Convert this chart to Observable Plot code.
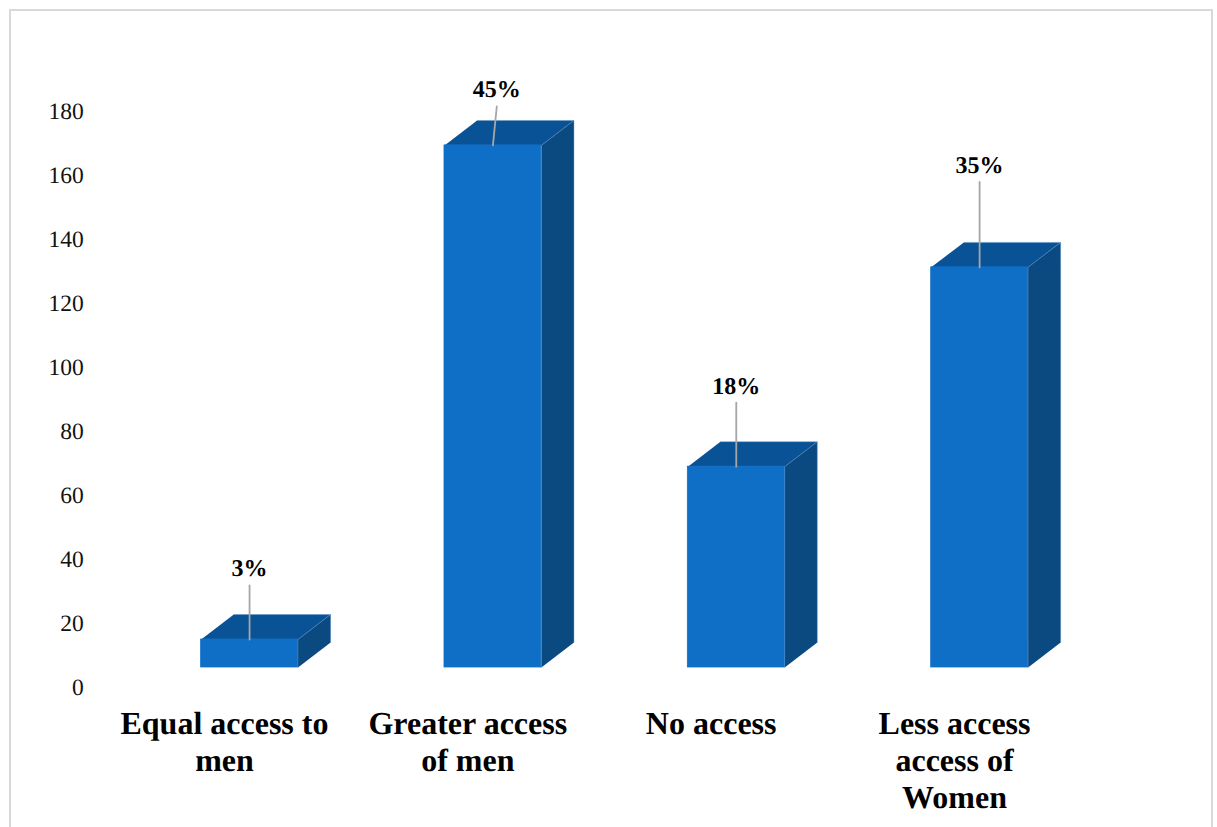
<!DOCTYPE html>
<html>
<head>
<meta charset="utf-8">
<script src="https://cdn.jsdelivr.net/npm/d3@7"></script>
<script src="https://cdn.jsdelivr.net/npm/@observablehq/plot@0.6"></script>
<style>
  html, body { margin: 0; padding: 0; background: #fff; overflow: hidden; }
  #page { position: relative; width: 1217px; height: 827px; overflow: hidden; }
  #border { position: absolute; left: 9px; top: 9px; width: 1200px; height: 860px; border: 2px solid #d9d9d9; }
  #chart { position: absolute; left: 0; top: 0; }
  #chart svg { display: block; text-rendering: geometricPrecision; }
</style>
</head>
<body>
<div id="page"><div id="border"></div><div id="chart"></div></div>
<script>
// Survey responses on access to resources
const categories = ["Equal access to\nmen", "Greater access\nof men", "No access", "Less access\naccess of\nWomen"];
const barTops = [15, 169.4, 69, 131.3];
const percentLabels = ["3%", "45%", "18%", "35%"];
const labelLevels = [31.9, 181.6, 89, 158];
const labelLean = [0, 0.016, 0, 0];
const yTicks = [0, 20, 40, 60, 80, 100, 120, 140, 160, 180];

// Shared geometry of the extruded columns, in scale units
const floor = 6.25;
const halfWidth = 0.199;
const barShift = 0.099;
const depthX = 0.134;
const depthY = 7.8;

const bars = categories.map((name, i) => ({
  name, i,
  top: barTops[i],
  label: percentLabels[i],
  level: labelLevels[i],
  lean: labelLean[i],
  left: i + barShift - halfWidth,
  right: i + barShift + halfWidth,
  mid: i + barShift
}));

const topFaces = bars.flatMap(b => [
  {k: b.i, x: b.left, y: b.top},
  {k: b.i, x: b.right, y: b.top},
  {k: b.i, x: b.right + depthX, y: b.top + depthY},
  {k: b.i, x: b.left + depthX, y: b.top + depthY}
]);
const sideFaces = bars.flatMap(b => [
  {k: b.i, x: b.right, y: floor},
  {k: b.i, x: b.right, y: b.top},
  {k: b.i, x: b.right + depthX, y: b.top + depthY},
  {k: b.i, x: b.right + depthX, y: floor + depthY}
]);
const leaders = bars.flatMap(b => [
  {k: b.i, x: b.mid, y: b.top},
  {k: b.i, x: b.mid + b.lean, y: b.level}
]);

const chart = Plot.plot({
  width: 1217,
  height: 827,
  marginTop: 111,
  marginBottom: 140,
  marginLeft: 103.3,
  marginRight: 140.3,
  style: {background: "transparent", fontFamily: "'Liberation Serif', serif", overflow: "visible"},
  x: {domain: [-0.5, 3.5], axis: null},
  y: {domain: [0, 180]},
  marks: [
    Plot.axisY({
      ticks: yTicks,
      tickSize: 0,
      tickPadding: 20,
      label: null,
      fontSize: 23.5,
      fill: "#111"
    }),
    Plot.line(topFaces, {x: "x", y: "y", z: "k", fill: "#0a5296", stroke: "#5b93c9", strokeWidth: 0.4}),
    Plot.line(sideFaces, {x: "x", y: "y", z: "k", fill: "#0a4a80", stroke: "#5b93c9", strokeWidth: 0.4}),
    Plot.rect(bars, {x1: "left", x2: "right", y1: floor, y2: "top", fill: "#0f6fc6", stroke: "#0f6fc6", strokeWidth: 0.8}),
    Plot.line(leaders, {x: "x", y: "y", z: "k", stroke: "#a6a6a6", strokeWidth: 1.8}),
    Plot.text(bars, {
      x: d => d.mid + d.lean,
      y: "level",
      text: "label",
      dy: -9,
      lineAnchor: "bottom",
      fontSize: 24,
      fontWeight: "bold",
      fill: "#000"
    }),
    Plot.text(bars, {
      x: "i",
      y: 0,
      text: "name",
      dx: -1,
      dy: 20,
      lineAnchor: "top",
      lineHeight: 1.156,
      fontSize: 32,
      fontWeight: "bold",
      fill: "#000"
    })
  ]
});
document.getElementById("chart").appendChild(chart);
</script>
</body>
</html>
